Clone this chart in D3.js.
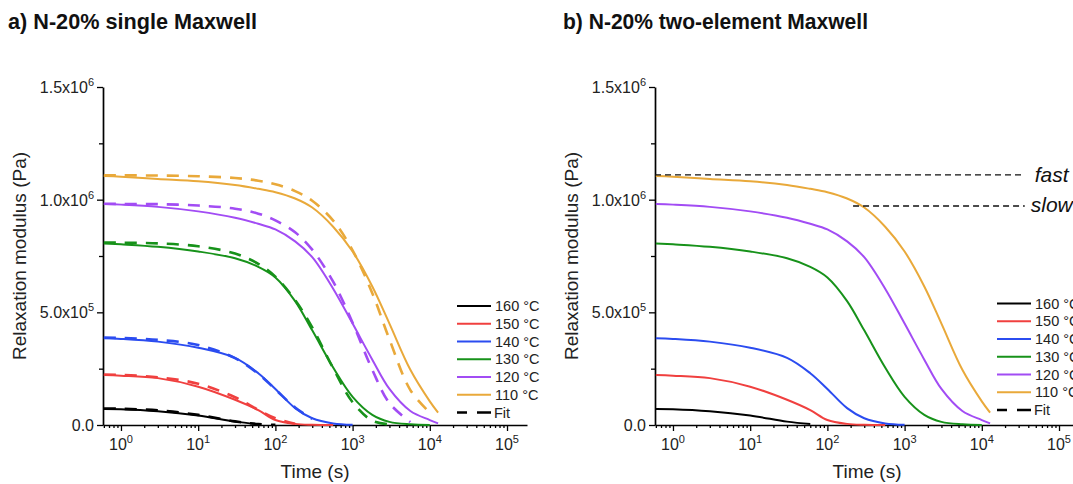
<!DOCTYPE html>
<html>
<head>
<meta charset="utf-8">
<script src="https://cdn.jsdelivr.net/npm/d3@7"></script>
<style>
  body { margin: 0; background: #fff; }
  text { font-family: "Liberation Sans", Arial, sans-serif; }
</style>
</head>
<body>
<svg id="chart" width="1073" height="484"></svg>
<script>
// time grid (s) shared by every series
const time = [0.6, 1, 3, 10, 30, 60, 100, 180, 300, 560, 1000, 1800, 3000, 5600, 10000, 12800];

// measured relaxation modulus, in 1e5 Pa (series stop where the test ended)
const g160 = [0.71, 0.70, 0.61, 0.42, 0.15, 0.04];
const g150 = [2.22, 2.19, 2.08, 1.70, 1.12, 0.66, 0.22, 0.05, 0.01, 0.0];
const g140 = [3.85, 3.82, 3.70, 3.43, 2.98, 2.30, 1.60, 0.75, 0.30, 0.07, 0.01];
const g130 = [8.06, 8.02, 7.91, 7.70, 7.40, 7.02, 6.55, 5.50, 4.20, 2.55, 1.25, 0.45, 0.14, 0.03, 0.0];
const g120 = [9.81, 9.78, 9.68, 9.48, 9.20, 8.93, 8.68, 8.15, 7.45, 6.05, 4.50, 2.90, 1.60, 0.62, 0.22, 0.07];
const g110 = [11.05, 11.02, 10.92, 10.82, 10.65, 10.48, 10.33, 10.05, 9.65, 8.80, 7.70, 6.15, 4.50, 2.45, 1.05, 0.55];

// single Maxwell fits, 1e5 Pa
const f160 = [0.73, 0.72, 0.65, 0.45, 0.16, 0.04, 0.005];
const f150 = [2.24, 2.22, 2.12, 1.83, 1.23, 0.67, 0.30, 0.06];
const f140 = [3.88, 3.86, 3.78, 3.55, 2.97, 2.27, 1.58, 0.78, 0.27];
const f130 = [8.10, 8.09, 8.06, 7.93, 7.61, 7.15, 6.58, 5.55, 4.33, 2.52, 1.01, 0.19, 0.03];
const f120 = [9.82, 9.81, 9.80, 9.74, 9.60, 9.38, 9.08, 8.55, 7.78, 6.36, 4.54, 2.45, 0.97, 0.13];
const f110 = [11.08, 11.08, 11.07, 11.04, 10.96, 10.84, 10.68, 10.38, 9.95, 9.07, 7.75, 5.85, 3.80, 1.55, 0.55];

const temps = ['160 °C', '150 °C', '140 °C', '130 °C', '120 °C', '110 °C'];
const colors = ['#000000', '#f0403f', '#2b4cf0', '#17921a', '#a24cf4', '#e9a93a'];
const measured = [g160, g150, g140, g130, g120, g110];
const fits = [f160, f150, f140, f130, f120, f110];

// two-element plateaus marked in panel b
const fastG = 1.11e6, slowG = 0.972e6, slowStart = 215, markEnd = 36000;

const yTicks = [0, 5e5, 1e6, 1.5e6];
const yMinor = [2.5e5, 7.5e5, 1.25e6];
const xTicks = [1, 10, 100, 1000, 10000, 100000];
const xMinor = [];
[0.1, 1, 10, 100, 1000, 10000, 100000].forEach(d => {
  for (let k = 2; k <= 9; k++) xMinor.push(d * k);
});

const svg = d3.select('#chart');

const toPoints = arr => arr.map((v, i) => ({ t: time[i], g: v * 1e5 }));

const drawPanel = (ox, title, showFits, legendX, legendY) => {
  const x = d3.scaleLog().domain([0.585, 1.815e5]).range([ox + 103, ox + 527]);
  const y = d3.scaleLinear().domain([0, 1.5e6]).range([425, 87]);
  const g = svg.append('g');

  const xMin = xMinor.filter(d => d >= x.domain()[0] && d <= x.domain()[1]);

  // minor ticks first
  g.append('g').attr('transform', `translate(0,${y(0)})`)
   .call(d3.axisBottom(x).tickValues(xMin).tickSize(3).tickSizeOuter(0).tickFormat(''))
   .call(a => a.select('.domain').remove());
  g.append('g').attr('transform', `translate(${x.range()[0]},0)`)
   .call(d3.axisLeft(y).tickValues(yMinor).tickSize(4).tickSizeOuter(0).tickFormat(''))
   .call(a => a.select('.domain').remove());

  g.append('g').attr('transform', `translate(0,${y(0)})`)
    .call(d3.axisBottom(x).tickValues(xTicks).tickSize(6).tickSizeOuter(0).tickFormat(''));
  g.append('g').attr('transform', `translate(${x.range()[0]},0)`)
    .call(d3.axisLeft(y).tickValues(yTicks).tickSize(6).tickSizeOuter(0).tickFormat(''));

  g.selectAll('.domain').attr('stroke-width', 1.7);
  g.selectAll('.tick line').attr('stroke-width', 1.3);

  // x tick labels 10^n
  xTicks.forEach(d => {
    const t = g.append('text').attr('x', x(d)).attr('y', 450)
      .attr('text-anchor', 'middle').attr('font-size', 16).attr('fill', '#222');
    t.append('tspan').text('10');
    t.append('tspan').attr('dy', -7).attr('font-size', 11).text(Math.round(Math.log10(d)));
  });

  // y tick labels
  yTicks.forEach(d => {
    const t = g.append('text').attr('x', x.range()[0] - 9).attr('y', y(d) + 6)
      .attr('text-anchor', 'end').attr('font-size', 16).attr('fill', '#222');
    if (d === 0) { t.text('0.0'); return; }
    const e = Math.floor(Math.log10(d));
    t.append('tspan').text((d / Math.pow(10, e)).toFixed(1) + 'x10');
    t.append('tspan').attr('dy', -7).attr('font-size', 11).text(e);
  });

  // axis titles
  g.append('text').attr('transform', `translate(${ox + 26},256) rotate(-90)`)
    .attr('text-anchor', 'middle').attr('font-size', 19).attr('fill', '#222')
    .text('Relaxation modulus (Pa)');
  g.append('text').attr('x', ox + 315).attr('y', 478)
    .attr('text-anchor', 'middle').attr('font-size', 19).attr('fill', '#222')
    .text('Time (s)');

  // panel title
  g.append('text').attr('x', ox === 0 ? 8 : 563).attr('y', 29)
    .attr('font-family', 'Lato, "Open Sans", sans-serif').attr('font-weight', 'bold')
    .attr('font-size', 22).attr('fill', '#111')
    .attr('textLength', ox === 0 ? 249 : 305).attr('lengthAdjust', 'spacingAndGlyphs')
    .text(title);

  const line = d3.line().x(d => x(d.t)).y(d => y(d.g)).curve(d3.curveCatmullRom.alpha(0.5));

  // measured curves: 110 °C first so 160 °C sits on top
  for (let i = measured.length - 1; i >= 0; i--) {
    g.append('path').attr('d', line(toPoints(measured[i])))
      .attr('fill', 'none').attr('stroke', colors[i]).attr('stroke-width', 2);
  }
  if (showFits) {
    for (let i = fits.length - 1; i >= 0; i--) {
      g.append('path').attr('d', line(toPoints(fits[i])))
        .attr('fill', 'none').attr('stroke', colors[i]).attr('stroke-width', 2.6)
        .attr('stroke-dasharray', '12,9');
    }
  } else {
    g.append('line').attr('x1', x.range()[0]).attr('x2', x(markEnd))
      .attr('y1', y(fastG)).attr('y2', y(fastG))
      .attr('stroke', '#111').attr('stroke-width', 1.3).attr('stroke-dasharray', '6,4');
    g.append('line').attr('x1', x(slowStart)).attr('x2', x(markEnd))
      .attr('y1', y(slowG)).attr('y2', y(slowG))
      .attr('stroke', '#111').attr('stroke-width', 1.3).attr('stroke-dasharray', '6,4');
    g.append('text').attr('x', x(markEnd) + 10).attr('y', y(fastG) + 7)
      .attr('font-family', 'Lato, "Open Sans", sans-serif').attr('font-style', 'italic')
      .attr('font-size', 21).attr('fill', '#111').text('fast');
    g.append('text').attr('x', x(markEnd) + 6).attr('y', y(slowG) + 6)
      .attr('font-family', 'Lato, "Open Sans", sans-serif').attr('font-style', 'italic')
      .attr('font-size', 21).attr('fill', '#111').text('slow');
  }

  // legend
  const lg = g.append('g').attr('transform', `translate(${legendX},${legendY})`);
  temps.forEach((name, i) => {
    lg.append('line').attr('x1', 0).attr('x2', 34).attr('y1', i * 17.75).attr('y2', i * 17.75)
      .attr('stroke', colors[i]).attr('stroke-width', 2.2);
    lg.append('text').attr('x', 38).attr('y', i * 17.75 + 5)
      .attr('font-size', 14.5).attr('fill', '#222').text(name);
  });
  const fy = temps.length * 17.75;
  lg.append('line').attr('x1', 0).attr('x2', 34).attr('y1', fy).attr('y2', fy)
    .attr('stroke', '#000').attr('stroke-width', 2.6).attr('stroke-dasharray', '10,10,14');
  lg.append('text').attr('x', 37).attr('y', fy + 5)
    .attr('font-size', 14.5).attr('fill', '#222').text('Fit');
};

drawPanel(0, 'a) N-20% single Maxwell', true, 457, 306);
drawPanel(552, 'b) N-20% two-element Maxwell', false, 997, 303.5);
</script>
</body>
</html>
